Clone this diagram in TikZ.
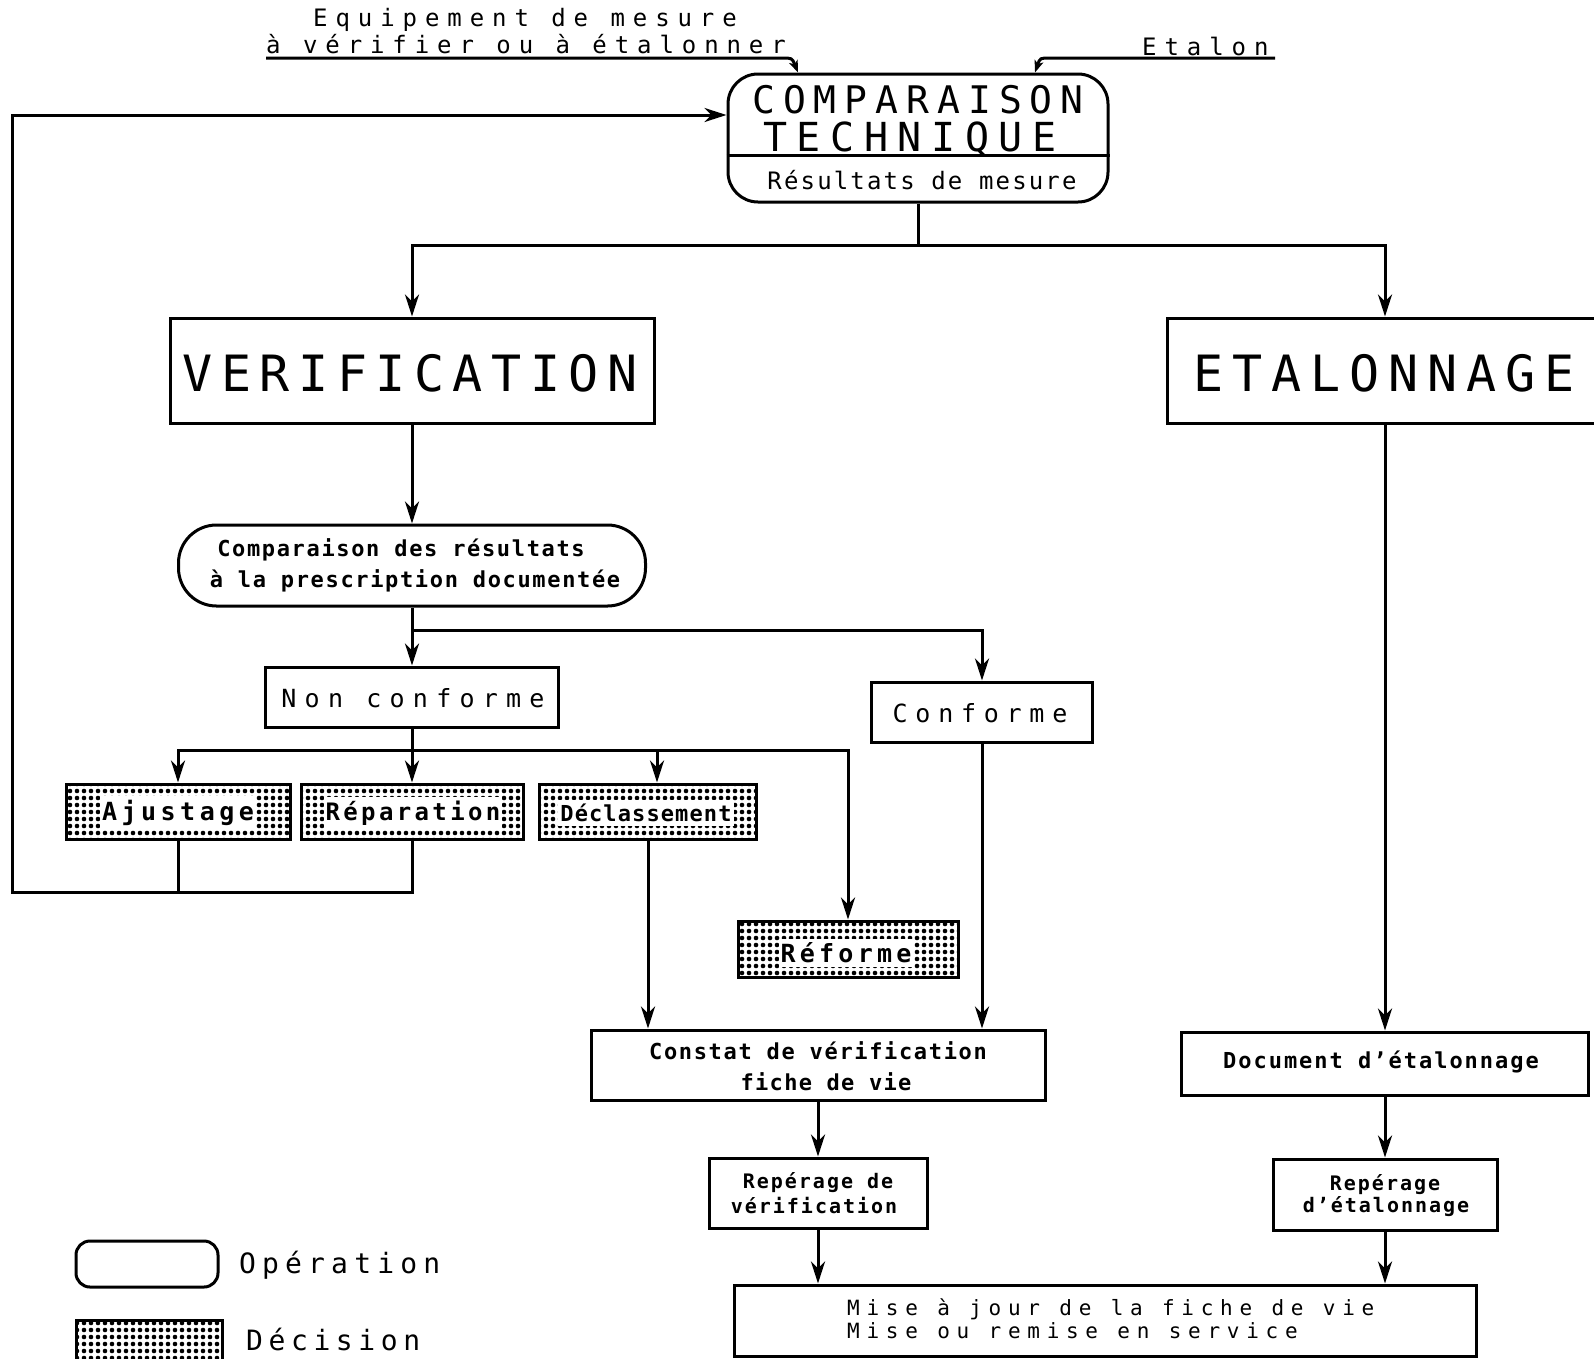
\documentclass[tikz,border=0pt]{standalone}
\usepackage{fontspec}
\setmainfont{DejaVu Sans Mono}
\usetikzlibrary{arrows.meta,patterns.meta}
\begin{document}
\begin{tikzpicture}[x=1pt,y=-1pt,
  lw/.style={line width=3pt},
  arr/.style={lw,-{Stealth[length=22pt,width=14pt,inset=7pt]}},
  sarr/.style={lw,-{Stealth[length=12pt,width=9pt,inset=3pt]}},
  box/.style={draw,lw,rectangle,inner sep=0pt},
  op/.style={box,rounded corners=#1},
  dec/.style={box,pattern={Dots[distance=7pt,radius=2.3pt]}},
  t/.style n args={3}{inner sep=0pt,align=center,font=\fontsize{#1}{#2}\selectfont\addfontfeature{LetterSpace=#3}},
  tb/.style n args={3}{inner sep=0pt,align=center,font=\bfseries\fontsize{#1}{#2}\selectfont\addfontfeature{LetterSpace=#3}},
  dt/.style={fill=white,inner xsep=2pt,inner ysep=4pt},
]
\useasboundingbox (0,0) rectangle (1594,1358);

% ---- boxes
\node[op=30pt, minimum width=380pt, minimum height=128pt] (comp) at (918,138) {};
\node[box, minimum width=484pt, minimum height=105pt] (verif) at (412,370.5) {};
\node[box, minimum width=436pt, minimum height=105pt] (etal) at (1385,370.5) {};
\node[op=38pt, minimum width=467pt, minimum height=81pt] (comp2) at (412,565.5) {};
\node[box, minimum width=293pt, minimum height=60pt] (nonconf) at (412,697) {};
\node[box, minimum width=221pt, minimum height=60pt] (conf) at (982,712) {};
\node[dec, minimum width=224pt, minimum height=55pt] (ajust) at (178,811.5) {};
\node[dec, minimum width=222pt, minimum height=55pt] (repar) at (412,811.5) {};
\node[dec, minimum width=217pt, minimum height=55pt] (declas) at (648,811.5) {};
\node[dec, minimum width=220pt, minimum height=56pt] (reform) at (848,949) {};
\node[box, minimum width=454pt, minimum height=70pt] (constat) at (818,1065) {};
\node[box, minimum width=407pt, minimum height=63pt] (doc) at (1385,1063.5) {};
\node[box, minimum width=218pt, minimum height=70pt] (repv) at (818,1193) {};
\node[box, minimum width=224pt, minimum height=71pt] (repe) at (1385,1194.5) {};
\node[box, minimum width=742pt, minimum height=71pt] (mise) at (1105,1320.5) {};
\node[op=14pt, minimum width=142pt, minimum height=46pt] (legop) at (147,1264) {};
\node[dec, minimum width=146pt, minimum height=46pt] (legdec) at (149,1343) {};

% ---- texts
\node[t={24}{24}{33}, anchor=west] (in1a) at (313,20) {Equipement de mesure};
\node[t={24}{24}{33}, anchor=west] (in1b) at (266,44) {à vérifier ou à étalonner};
\node[t={24}{24}{33}, anchor=west] (in2) at (1142,46) {Etalon};
\node[t={38}{38}{21}] (tcompA) at (918,100) {COMPARAISON};
\node[t={40}{40}{24}] (tcompB) at (910,139) {TECHNIQUE};
\node[t={24}{24}{9}] (tcompC) at (922,180) {Résultats de mesure};
\node[t={50}{50}{17}] (tverif) at (410,373) {VERIFICATION};
\node[t={50}{50}{18}] (tetal) at (1384,373) {ETALONNAGE};
\node[tb={22}{22}{7.5}] (tc2a) at (401,550) {Comparaison des résultats};
\node[tb={22}{22}{7.5}] (tc2b) at (415,581) {à la prescription documentée};
\node[t={25}{25}{33}] (tnonconf) at (413,698) {Non conforme};
\node[t={25}{25}{31}] (tconf) at (980,713) {Conforme};
\node[tb={25}{25}{18},dt] (tajust) at (178,813) {Ajustage};
\node[tb={24}{24}{14},dt] (trepar) at (413,813) {Réparation};
\node[tb={22}{22}{5},dt] (tdeclas) at (646,813) {Déclassement};
\node[tb={25}{25}{17},dt] (treform) at (846,953) {Réforme};
\node[tb={22}{22}{7.5}] (tconsA) at (818,1051) {Constat de vérification};
\node[tb={22}{22}{6}] (tconsB) at (826,1082) {fiche de vie};
\node[tb={22}{22}{9}] (tdoc) at (1381,1062) {Document d'étalonnage};
\node[tb={20}{20}{10}] (trepvA) at (818,1183) {Repérage de};
\node[tb={20}{20}{10}] (trepvB) at (814,1205) {vérification};
\node[tb={20}{20}{10}] (trepeA) at (1385,1185) {Repérage};
\node[tb={20}{20}{10}] (trepeB) at (1386,1207) {d'étalonnage};
\node[t={21}{21}{32}, anchor=west] (tmiseA) at (847,1309) {Mise à jour de la fiche de vie};
\node[t={21}{21}{32}, anchor=west] (tmiseB) at (847,1331) {Mise ou remise en service};
\node[t={28}{28}{22}, anchor=west] (tlegop) at (239,1265) {Opération};
\node[t={28}{28}{20}, anchor=west] (tlegdec) at (246,1339) {Décision};

% ---- divider in comp
\coordinate (div) at (918,155);
\draw[lw] (comp.west |- div) -- (comp.east |- div);

% ---- inputs
\coordinate (u1) at (266,58);
\coordinate (u1b) at (782,58);
\coordinate (u2) at (1275,58);
\coordinate (u2b) at (1050,58);
\draw[sarr] (u1) -- (u1b) .. controls (792,58) .. ([xshift=-120pt]comp.north);
\draw[sarr] (u2) -- (u2b) .. controls (1040,58) .. ([xshift=117pt]comp.north);

% ---- connectors
\coordinate (s1) at (918,245);
\draw[lw] (comp.south) -- (s1);
\draw[arr] (s1) -| (verif.north);
\draw[arr] (s1) -| (etal.north);
\draw[arr] (verif.south) -- (comp2.north);
\coordinate (s2) at (412,630);
\draw[lw] (comp2.south) -- (s2);
\draw[arr] (s2) -- (nonconf.north);
\draw[arr] (s2) -| (conf.north);
\coordinate (s3) at (412,750);
\draw[arr] (nonconf.south) -- (repar.north);
\draw[arr] (s3) -| (ajust.north);
\draw[arr] (s3) -| ([xshift=9pt]declas.north);
\draw[arr] (s3) -| (reform.north);
\coordinate (lb) at (12,892);
\draw[arr] (repar.south) |- (lb) |- ([yshift=23pt]comp.west);
\draw[lw] (ajust.south) -- (ajust.south |- lb);
\draw[arr] (declas.south) -- (declas.south |- constat.north);
\draw[arr] (conf.south) -- (conf.south |- constat.north);
\draw[arr] (etal.south) -- (doc.north);
\draw[arr] (constat.south) -- (repv.north);
\draw[arr] (doc.south) -- (repe.north);
\draw[arr] (repv.south) -- (repv.south |- mise.north);
\draw[arr] (repe.south) -- (repe.south |- mise.north);
\end{tikzpicture}
\end{document}
